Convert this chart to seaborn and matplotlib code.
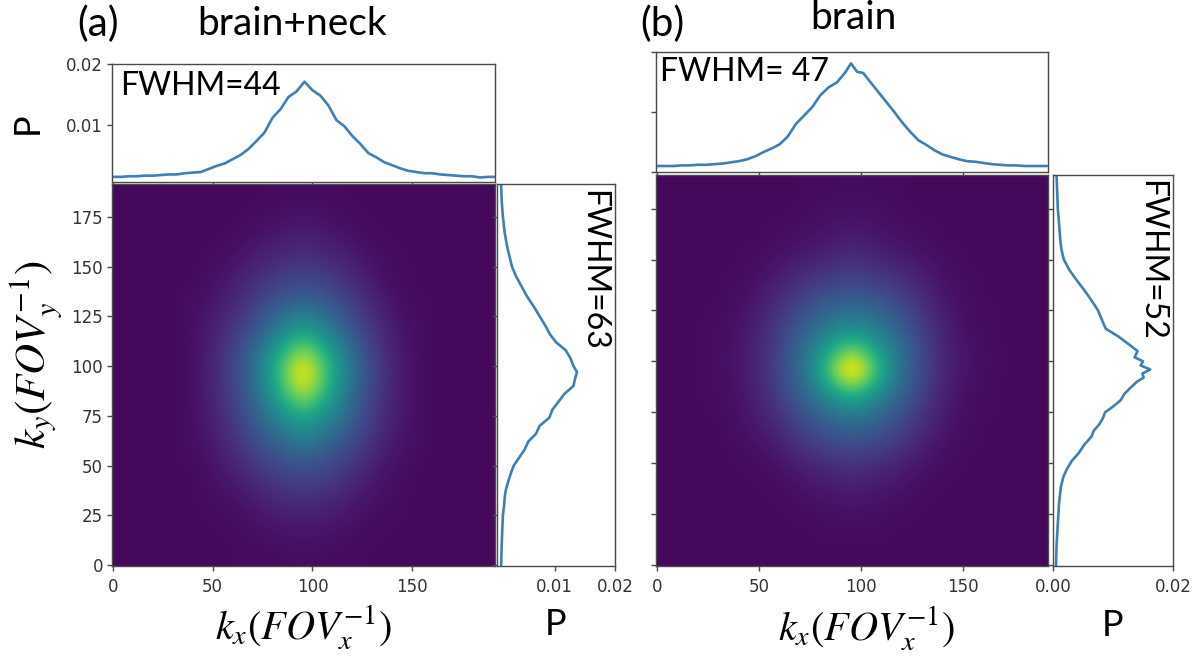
import numpy as np
import matplotlib
matplotlib.use("Agg")
import matplotlib.pyplot as plt
import seaborn as sns

sns.set_theme(style="white")
plt.rcParams['font.family'] = ['DejaVu Sans']
plt.rcParams['mathtext.fontset'] = 'stix'
TXT = 'Lato'

# ---- marginal along kx, panel a ----
kx_a = [0,4,8,12,16,20,24,28,32,36,40,44,48,52,56,60,64,68,72,76,80,84,88,92,96,100,104,108,112,116,120,124,128,132,136,140,144,148,152,156,160,164,168,172,176,180,184,188,191]
px_a = [.0015,.0015,.0016,.0016,.0017,.0017,.0018,.0019,.0019,.0021,.0022,.0023,.0028,.0033,.0037,.0044,.0051,.0061,.0074,.0088,.0112,.0126,.0146,.0155,.0171,.0157,.0148,.0132,.0108,.0098,.0082,.0069,.0054,.0047,.0039,.0034,.0029,.0025,.0023,.0021,.0021,.0019,.0018,.0017,.0016,.0016,.0014,.0015,.0015]
# ---- marginal along ky, panel a ----
ky_a = [191,183,175,167,160,155,150,145,140,135,130,125,120,116,112,108,104,100,97,94,90,86,82,78,74,70,66,62,58,54,50,46,42,38,34,30,25,18,10,0]
py_a = [.0011,.0012,.0014,.0017,.0021,.0025,.0029,.0036,.0045,.0054,.0065,.0075,.0085,.0092,.0102,.0118,.0126,.0131,.0137,.0134,.0131,.0116,.0106,.0096,.0091,.0075,.0069,.0056,.0050,.0041,.0032,.0027,.0023,.0019,.0017,.0016,.0014,.0013,.0012,.0011]
# ---- marginal along kx, panel b ----
kx_b = [0,4,8,12,16,20,24,28,32,36,40,44,48,52,56,60,64,68,72,76,80,84,88,92,95,98,101,104,108,112,116,120,124,128,132,136,140,144,148,152,156,160,164,168,172,176,180,184,188,191]
px_b = [.0010,.0010,.0010,.0011,.0011,.0012,.0012,.0013,.0014,.0016,.0018,.0021,.0026,.0033,.0039,.0046,.0059,.0080,.0094,.0108,.0128,.0141,.0149,.0165,.0181,.0167,.0165,.0152,.0135,.0118,.0101,.0083,.0067,.0053,.0045,.0036,.0029,.0025,.0021,.0018,.0017,.0015,.0013,.0012,.0011,.0011,.0010,.0010,.0010,.0010]
# ---- marginal along ky, panel b ----
ky_b = [191,183,175,168,160,155,150,145,140,135,130,125,120,116,112,108,105,102,100,98,96,94,92,90,87,84,81,78,75,72,69,66,63,59,55,51,47,43,38,30,20,10,0]
py_b = [.0006,.0007,.0008,.0010,.0012,.0014,.0018,.0027,.0039,.0052,.0064,.0075,.0082,.0088,.0110,.0128,.0141,.0136,.0150,.0146,.0162,.0149,.0151,.0140,.0129,.0119,.0113,.0101,.0087,.0083,.0077,.0068,.0064,.0052,.0043,.0031,.0023,.0017,.0013,.0010,.0008,.0006,.0005]

# ---- coarse 2-D intensity (percent of colour scale), top row = high ky ----
grid_a = [
 [2,2,2,2,2,2,2,3,3,3,3,3,2,2,2,2,2,2,2],
 [2,2,2,2,2,2,3,3,4,5,4,3,3,2,2,2,2,2,2],
 [2,2,2,2,2,3,3,5,7,8,7,5,3,3,2,2,2,2,2],
 [2,2,2,2,3,3,6,9,11,13,11,9,5,3,3,2,2,2,2],
 [2,2,2,2,3,5,9,13,17,19,17,13,8,4,3,2,2,2,2],
 [2,2,2,3,4,7,12,19,25,28,25,19,12,6,3,3,2,2,2],
 [2,2,2,3,5,10,16,26,36,44,36,26,16,9,4,3,2,2,2],
 [2,2,2,3,6,12,21,34,50,62,50,34,21,11,5,3,2,2,2],
 [2,2,2,3,6,14,26,44,68,90,68,44,26,13,6,3,2,2,2],
 [2,2,2,3,6,15,27,46,74,106,74,46,27,14,6,3,2,2,2],
 [2,2,2,3,6,14,25,42,66,88,66,42,25,13,6,3,2,2,2],
 [2,2,2,3,6,13,22,36,50,62,50,37,22,12,6,3,2,2,2],
 [2,2,2,3,5,11,18,29,38,46,38,29,18,10,5,3,2,2,2],
 [2,2,2,3,4,8,14,21,27,31,27,21,14,7,4,3,2,2,2],
 [2,2,2,2,3,6,10,15,19,22,19,15,9,5,3,2,2,2,2],
 [2,2,2,2,3,4,6,10,13,14,13,10,6,4,3,2,2,2,2],
 [2,2,2,2,3,3,4,6,8,8,8,6,4,3,3,2,2,2,2],
 [2,2,2,2,2,3,3,4,5,5,5,4,3,3,2,2,2,2,2],
 [2,2,2,2,2,2,3,3,3,4,3,3,3,2,2,2,2,2,2],
]
grid_b = [
 [2,2,2,2,2,2,2,3,3,3,3,3,2,2,2,2,2,2,2],
 [2,2,2,2,2,2,3,3,4,4,4,3,3,2,2,2,2,2,2],
 [2,2,2,2,2,3,3,4,5,6,5,4,3,3,2,2,2,2,2],
 [2,2,2,2,3,3,5,6,8,10,8,6,5,3,3,2,2,2,2],
 [2,2,2,3,3,5,8,11,14,16,14,11,8,5,3,3,2,2,2],
 [2,2,2,3,4,8,13,18,22,24,22,18,13,7,4,3,2,2,2],
 [2,2,3,3,6,11,18,27,32,35,32,27,18,10,5,3,3,2,2],
 [2,2,3,4,7,13,23,34,44,50,44,34,23,12,6,3,3,2,2],
 [2,2,3,4,8,15,27,42,62,80,62,42,27,14,7,4,3,2,2],
 [2,2,3,4,8,15,28,44,78,115,78,44,28,14,7,4,3,2,2],
 [2,2,3,4,7,14,25,38,56,70,56,38,24,13,6,3,3,2,2],
 [2,2,3,3,6,11,20,29,38,44,38,29,19,10,5,3,3,2,2],
 [2,2,2,3,5,8,14,21,27,29,27,21,14,8,4,3,2,2,2],
 [2,2,2,3,3,5,9,14,17,19,17,14,9,5,3,3,2,2,2],
 [2,2,2,2,3,3,5,8,10,12,10,8,5,3,3,2,2,2,2],
 [2,2,2,2,2,3,3,5,6,7,6,5,3,3,2,2,2,2,2],
 [2,2,2,2,2,2,3,3,4,4,4,3,3,2,2,2,2,2,2],
 [2,2,2,2,2,2,2,3,3,3,3,3,2,2,2,2,2,2,2],
 [2,2,2,2,2,2,2,2,2,2,2,2,2,2,2,2,2,2,2],
]

xticks = [0, 50, 100, 150]
yticks = [0, 25, 50, 75, 100, 125, 150, 175]

W, H = 1200, 657
fig = plt.figure(figsize=(12, 6.57), dpi=100)

def add(l, t, r, b):
    return fig.add_axes([l/W, 1-b/H, (r-l)/W, (b-t)/H])

LINE = '#3f7fb6'
SP = '#4a4a4a'

def style(ax):
    for s in ax.spines.values():
        s.set_color(SP); s.set_linewidth(1.0)
    ax.tick_params(left=True, bottom=True, length=3.5, width=1, color=SP,
                   labelsize=12, labelcolor='#333333', pad=5)
    ax.tick_params(axis='y', pad=3)

def panel(top_box, main_box, right_box, grid, kx, px, ky, py, ylim_top, xlim_right, labelled):
    at = add(*top_box); am = add(*main_box); ar = add(*right_box)
    sns.lineplot(x=kx, y=px, ax=at, color=LINE, lw=1.9, estimator=None)
    at.set_xlim(-0.5, 191.5); at.set_ylim(*ylim_top)
    at.set_xticks(xticks); at.set_xticklabels([])
    at.set_yticks([0.01, 0.02] if labelled else [0, 0.01, 0.02])
    at.set_yticklabels(['0.01', '0.02'] if labelled else ['', '', ''])

    am.imshow(np.array(grid)/100, cmap='viridis', vmin=0, vmax=1, aspect='auto',
              interpolation='bicubic', extent=[-0.5, 191.5, -0.5, 191.5], origin='upper')
    am.set_xticks(xticks); am.set_yticks(yticks)
    if not labelled:
        am.set_yticklabels([])

    sns.lineplot(x=py, y=ky, ax=ar, color=LINE, lw=1.9,
                 estimator=None, sort=False, orient='y')
    ar.set_ylim(-0.5, 191.5); ar.set_xlim(*xlim_right)
    ar.set_yticks(yticks); ar.set_yticklabels([])
    for a in (at, am, ar):
        style(a)
    return at, am, ar

at, am, ar = panel((112, 64, 495, 182), (112, 184, 495, 566), (497, 184, 615, 566), grid_a,
                   kx_a, px_a, ky_a, py_a, (0.00066, 0.02), (0.00042, 0.02), True)
ar.set_xticks([0.01, 0.02]); ar.set_xticklabels(['0.01', '0.02'])
bt, bm, br = panel((656, 52, 1048, 172), (656, 175, 1048, 566), (1053, 175, 1173, 566), grid_b,
                   kx_b, px_b, ky_b, py_b, (0, 0.02), (0, 0.02), False)
br.set_xticks([0, 0.02]); br.set_xticklabels(['0.00', '0.02'])

LAB = 29
for ax, xc in ((am, 0.50), (bm, 0.536)):
    ax.set_xlabel(r'$k_x(FOV_x^{-1})$', fontsize=LAB, color='black')
    ax.xaxis.set_label_coords(xc, -0.098)
am.set_ylabel(r'$k_y(FOV_y^{-1})$', fontsize=LAB+2, color='black')
am.yaxis.set_label_coords(-0.122, 0.552)
at.set_ylabel('P', fontsize=26, family=TXT, color='black')
at.yaxis.set_label_coords(-0.177, 0.5)
for ax in (ar, br):
    ax.set_xlabel('P', fontsize=26, family=TXT, color='black')
    ax.xaxis.set_label_coords(0.5, -0.11)

def px_text(x, y, s, size=23, rot=0, ha='center', va='center'):
    fig.text(x/W, 1-y/H, s, fontsize=size, family=TXT, color='black', rotation=rot, ha=ha, va=va)

px_text(98, 24, '(a)', size=29)
px_text(292, 24, 'brain+neck', size=28)
px_text(662, 24, '(b)', size=29)
px_text(853, 18, 'brain', size=28)
px_text(120, 86, 'FWHM=44', ha='left')
px_text(660, 72, 'FWHM= 47', ha='left')
px_text(593, 270, 'FWHM=63', rot=-90)
px_text(1151, 260, 'FWHM=52', rot=-90)

fig.savefig('out.png', dpi=100)
